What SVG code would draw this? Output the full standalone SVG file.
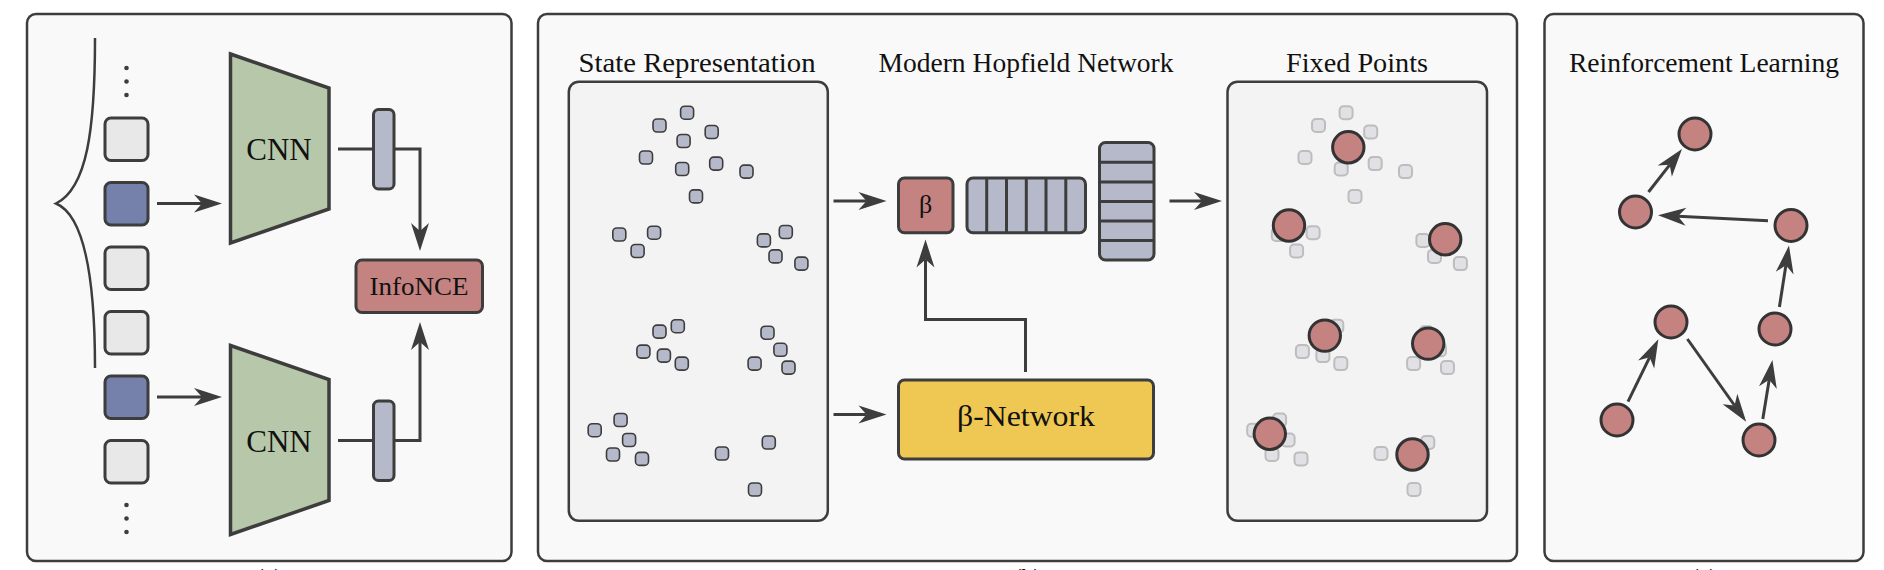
<svg xmlns="http://www.w3.org/2000/svg" xmlns:xlink="http://www.w3.org/1999/xlink" width="1884" height="570" viewBox="0 0 1884 570">
<style>
.panel{fill:#f9f9f9;stroke:#3d3d3d;stroke-width:2.5}
.inner{fill:#f3f3f3;stroke:#3d3d3d;stroke-width:2.5}
.box{stroke:#3d3d3d;stroke-width:3}
.light{fill:#e8e8e8}
.blue{fill:#7580ab}
.green{fill:#b7c7a9;stroke:#3d3d3d;stroke-width:3.5;stroke-linejoin:miter}
.slate{fill:#b5b9ca}
.red{fill:#c48281}
.yellow{fill:#efc853}
.sdot{fill:#b5b9ca;stroke:#3d3d3d;stroke-width:1.6}
.gdot{fill:#e1e1e5;stroke:#bdbdbd;stroke-width:2}
.fp{fill:#c48281;stroke:#333;stroke-width:3}
.line{fill:none;stroke:#3d3d3d;stroke-width:3}
.arrow{fill:none;stroke:#3d3d3d;stroke-width:3;marker-end:url(#ah)}
.brace{fill:none;stroke:#3d3d3d;stroke-width:2.5}
.t{font-family:"Liberation Serif","DejaVu Serif",serif;fill:#111;text-anchor:middle}
.title{font-size:27px}
.dot{fill:#3d3d3d}
</style>
<defs>
<marker id="ah" markerUnits="userSpaceOnUse" markerWidth="32" markerHeight="22" viewBox="-10 -11 32 22" refX="0" refY="0" orient="auto" overflow="visible">
<path d="M20,0 L-8,-9 L0,0 L-8,9 Z" fill="#3d3d3d"/>
</marker>
<rect id="sd" x="-6.5" y="-6.5" width="13" height="13" rx="4"/>
</defs>

<!-- Panels -->
<g id="panel-a"><rect class="panel" x="27" y="14" width="484.5" height="547" rx="9"/></g>
<g id="panel-b"><rect class="panel" x="538" y="14" width="979" height="547" rx="9"/></g>
<g id="panel-c"><rect class="panel" x="1544.5" y="14" width="319" height="547" rx="9"/></g>

<!-- Panel (a) -->
<g id="brace"><path class="brace" d="M95,38 C95,130 87,188 56,203.5 C86,216 95,285 95,368"/></g>
<g id="dots-top"><circle class="dot" cx="126.5" cy="68" r="2.3"/><circle class="dot" cx="126.5" cy="81.5" r="2.3"/><circle class="dot" cx="126.5" cy="95" r="2.3"/></g>
<g id="dots-bottom"><circle class="dot" cx="126.5" cy="505" r="2.3"/><circle class="dot" cx="126.5" cy="518.5" r="2.3"/><circle class="dot" cx="126.5" cy="532" r="2.3"/></g>
<g id="frame1"><rect class="box light" x="105" y="118" width="43" height="42.5" rx="6"/></g>
<g id="frame2"><rect class="box blue" x="105" y="182.5" width="43" height="42.5" rx="6"/></g>
<g id="frame3"><rect class="box light" x="105" y="247" width="43" height="42.5" rx="6"/></g>
<g id="frame4"><rect class="box light" x="105" y="311.5" width="43" height="42.5" rx="6"/></g>
<g id="frame5"><rect class="box blue" x="105" y="376" width="43" height="42.5" rx="6"/></g>
<g id="frame6"><rect class="box light" x="105" y="440.5" width="43" height="42.5" rx="6"/></g>

<g id="cnn-top"><polygon class="green" points="230.5,54 329,88 329,209 230.5,243"/><text class="t" x="279" y="160" font-size="31">CNN</text></g>
<g id="cnn-bottom"><polygon class="green" points="230.5,345.5 329,379.5 329,500.5 230.5,534.5"/><text class="t" x="279" y="451.5" font-size="31">CNN</text></g>

<g id="connectors-a">
<path class="arrow" d="M157,203.5 H202"/>
<path class="arrow" d="M157,397 H202"/>
<path class="arrow" d="M338,149 H420 V231"/>
<path class="arrow" d="M338,440.5 H420 V342"/>
</g>
<g id="latent-top"><rect class="box slate" x="373.5" y="109.5" width="20.5" height="79.5" rx="5"/></g>
<g id="latent-bottom"><rect class="box slate" x="373.5" y="401" width="20.5" height="79.5" rx="5"/></g>
<g id="infonce"><rect class="box red" x="356" y="260" width="126.5" height="52.5" rx="6"/><text class="t" x="419" y="295" font-size="25" textLength="99" lengthAdjust="spacingAndGlyphs">InfoNCE</text></g>

<!-- Panel (b) -->
<text class="t title" x="697" y="72" textLength="237" lengthAdjust="spacingAndGlyphs">State Representation</text>
<text class="t title" x="1026" y="72" textLength="295" lengthAdjust="spacingAndGlyphs">Modern Hopfield Network</text>
<text class="t title" x="1357" y="72" textLength="142" lengthAdjust="spacingAndGlyphs">Fixed Points</text>

<g id="state-representation">
<rect class="inner" x="568.8" y="81.8" width="259" height="439" rx="10"/>
<g class="sdot">
<use xlink:href="#sd" x="687.1" y="112.7"/><use xlink:href="#sd" x="659.5" y="125.5"/><use xlink:href="#sd" x="711.7" y="132"/><use xlink:href="#sd" x="683.6" y="141"/><use xlink:href="#sd" x="646" y="157.5"/><use xlink:href="#sd" x="716.2" y="163.6"/><use xlink:href="#sd" x="682.2" y="169"/><use xlink:href="#sd" x="746.5" y="171.6"/><use xlink:href="#sd" x="696" y="196.4"/>
<use xlink:href="#sd" x="619.3" y="234.5"/><use xlink:href="#sd" x="654.1" y="232.7"/><use xlink:href="#sd" x="637.6" y="251"/>
<use xlink:href="#sd" x="785.8" y="232"/><use xlink:href="#sd" x="763.9" y="240.4"/><use xlink:href="#sd" x="775.5" y="256.4"/><use xlink:href="#sd" x="801.4" y="263.6"/>
<use xlink:href="#sd" x="677.8" y="326.2"/><use xlink:href="#sd" x="659.5" y="331.6"/><use xlink:href="#sd" x="643.4" y="351.6"/><use xlink:href="#sd" x="663.9" y="355.6"/><use xlink:href="#sd" x="681.8" y="363.6"/>
<use xlink:href="#sd" x="767.5" y="332.7"/><use xlink:href="#sd" x="780.4" y="349.8"/><use xlink:href="#sd" x="754.6" y="363.6"/><use xlink:href="#sd" x="788.5" y="367.6"/>
<use xlink:href="#sd" x="620.6" y="420"/><use xlink:href="#sd" x="594.7" y="430.2"/><use xlink:href="#sd" x="629.1" y="440"/><use xlink:href="#sd" x="613" y="454.5"/><use xlink:href="#sd" x="642" y="458.9"/>
<use xlink:href="#sd" x="768.8" y="442.5"/><use xlink:href="#sd" x="722" y="453.5"/><use xlink:href="#sd" x="755" y="489.5"/>
</g>
</g>

<g id="beta"><rect class="box red" x="898.5" y="178" width="54.5" height="54.7" rx="6"/><text class="t" x="925.5" y="213" font-size="26">β</text></g>
<g id="memory-row">
<rect class="box slate" x="967" y="178" width="118.5" height="54.7" rx="6"/>
<path class="line" d="M986.7,178 V232.7 M1006.5,178 V232.7 M1026.3,178 V232.7 M1046,178 V232.7 M1065.8,178 V232.7"/>
</g>
<g id="memory-column">
<rect class="box slate" x="1099.5" y="142.5" width="54.5" height="117.5" rx="6"/>
<path class="line" d="M1099.5,162.3 H1154 M1099.5,181.9 H1154 M1099.5,201.5 H1154 M1099.5,221.1 H1154 M1099.5,240.6 H1154"/>
</g>
<g id="beta-network"><rect class="box yellow" x="898.5" y="380" width="255" height="79" rx="6"/><text class="t" x="1026" y="426" font-size="30" textLength="138" lengthAdjust="spacingAndGlyphs">β-Network</text></g>

<g id="fixed-points">
<rect class="inner" x="1227.5" y="81.8" width="259.5" height="439" rx="10"/>
<g class="gdot" transform="translate(659,0)">
<use xlink:href="#sd" x="687.1" y="112.7"/><use xlink:href="#sd" x="659.5" y="125.5"/><use xlink:href="#sd" x="711.7" y="132"/><use xlink:href="#sd" x="683.6" y="141"/><use xlink:href="#sd" x="646" y="157.5"/><use xlink:href="#sd" x="716.2" y="163.6"/><use xlink:href="#sd" x="682.2" y="169"/><use xlink:href="#sd" x="746.5" y="171.6"/><use xlink:href="#sd" x="696" y="196.4"/>
<use xlink:href="#sd" x="619.3" y="234.5"/><use xlink:href="#sd" x="654.1" y="232.7"/><use xlink:href="#sd" x="637.6" y="251"/>
<use xlink:href="#sd" x="785.8" y="232"/><use xlink:href="#sd" x="763.9" y="240.4"/><use xlink:href="#sd" x="775.5" y="256.4"/><use xlink:href="#sd" x="801.4" y="263.6"/>
<use xlink:href="#sd" x="677.8" y="326.2"/><use xlink:href="#sd" x="659.5" y="331.6"/><use xlink:href="#sd" x="643.4" y="351.6"/><use xlink:href="#sd" x="663.9" y="355.6"/><use xlink:href="#sd" x="681.8" y="363.6"/>
<use xlink:href="#sd" x="767.5" y="332.7"/><use xlink:href="#sd" x="780.4" y="349.8"/><use xlink:href="#sd" x="754.6" y="363.6"/><use xlink:href="#sd" x="788.5" y="367.6"/>
<use xlink:href="#sd" x="620.6" y="420"/><use xlink:href="#sd" x="594.7" y="430.2"/><use xlink:href="#sd" x="629.1" y="440"/><use xlink:href="#sd" x="613" y="454.5"/><use xlink:href="#sd" x="642" y="458.9"/>
<use xlink:href="#sd" x="768.8" y="442.5"/><use xlink:href="#sd" x="722" y="453.5"/><use xlink:href="#sd" x="755" y="489.5"/>
</g>
<circle class="fp" cx="1348.3" cy="147.3" r="15.7"/>
<circle class="fp" cx="1289" cy="225.5" r="15.7"/>
<circle class="fp" cx="1445.2" cy="239.3" r="15.7"/>
<circle class="fp" cx="1324.8" cy="335.6" r="15.7"/>
<circle class="fp" cx="1428.2" cy="343.6" r="15.7"/>
<circle class="fp" cx="1269.8" cy="433.8" r="15.7"/>
<circle class="fp" cx="1412.5" cy="454.5" r="15.7"/>
</g>

<g id="connectors-b">
<path class="arrow" d="M833.5,201 H866.5"/>
<path class="arrow" d="M833.5,414.5 H866.5"/>
<path class="arrow" d="M1169.5,201 H1202"/>
<path class="arrow" d="M1025.5,372 V319.5 H925.5 V259.5"/>
</g>

<!-- Panel (c) -->
<text class="t title" x="1704" y="72" textLength="270" lengthAdjust="spacingAndGlyphs">Reinforcement Learning</text>
<g id="rl-a"><circle class="fp" cx="1695" cy="134" r="16"/></g>
<g id="rl-b"><circle class="fp" cx="1635.5" cy="212" r="16"/></g>
<g id="rl-c"><circle class="fp" cx="1791" cy="225.5" r="16"/></g>
<g id="rl-d"><circle class="fp" cx="1671" cy="322" r="16"/></g>
<g id="rl-e"><circle class="fp" cx="1775" cy="329" r="16"/></g>
<g id="rl-f"><circle class="fp" cx="1617" cy="420" r="16"/></g>
<g id="rl-g"><circle class="fp" cx="1759" cy="440" r="16"/></g>
<g id="connectors-c">
<path class="arrow" d="M1648.5,192 L1669.7,164.8"/>
<path class="arrow" d="M1768,220.7 L1678,216.3"/>
<path class="arrow" d="M1779.4,307 L1785.9,265.3"/>
<path class="arrow" d="M1628,401.7 L1649.6,357.3"/>
<path class="arrow" d="M1687.4,339 L1734.6,405.5"/>
<path class="arrow" d="M1762.8,419 L1769.2,379.7"/>
</g>

<!-- Captions (cut off at the bottom edge) -->
<text class="t" x="269" y="585" font-size="24">(a)</text>
<text class="t" x="1027.5" y="585" font-size="24">(b)</text>
<text class="t" x="1704" y="585" font-size="24">(c)</text>
</svg>
